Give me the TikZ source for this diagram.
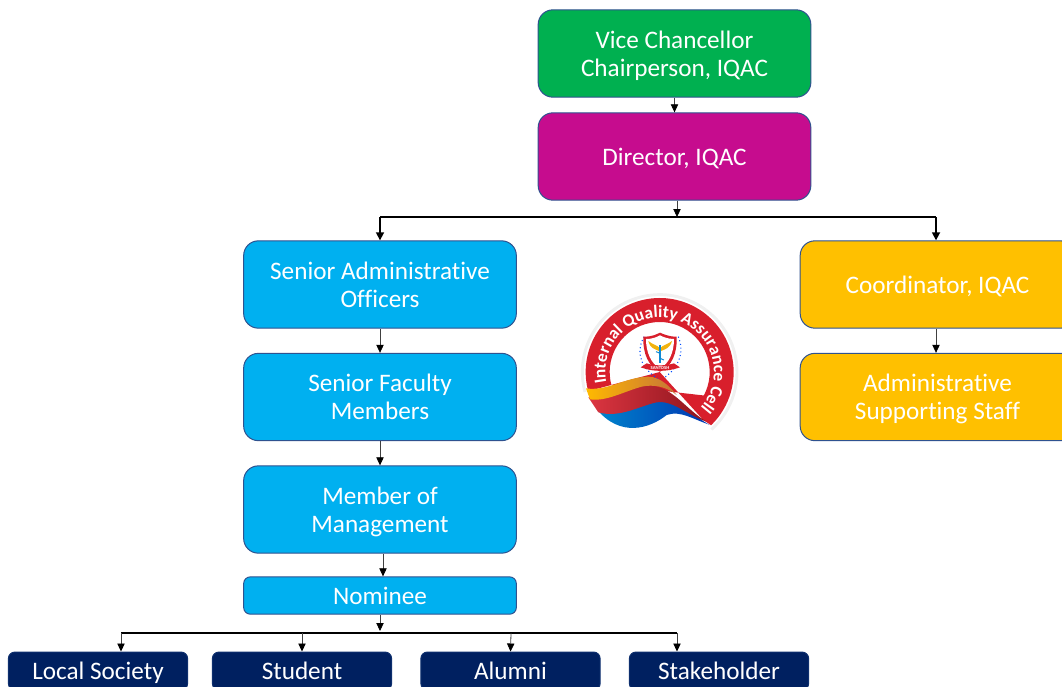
\documentclass[tikz,border=0pt]{standalone}
\usepackage{fontspec}
\setmainfont{Carlito}[Ligatures=NoCommon]
\newfontfamily\logofont{Carlito}[Ligatures=NoCommon]
\usetikzlibrary{arrows.meta,decorations.text,calc}
\definecolor{cgreen}{HTML}{00B050}
\definecolor{cmag}{HTML}{C60C8E}
\definecolor{cblue}{HTML}{00B0F0}
\definecolor{cgold}{HTML}{FFC000}
\definecolor{cnavy}{HTML}{002060}
\definecolor{cedge}{HTML}{2F528F}
\definecolor{logored}{HTML}{D81F2C}
\newcommand{\lsx}{\rule[-3.8pt]{0pt}{20.8pt}}
\tikzset{
 orgbox/.style={draw=cedge,line width=0.75pt,rounded corners=11pt,align=center,text=white,
   font=\fontsize{18.9}{21}\selectfont,inner sep=0pt,minimum width=204.5pt,minimum height=65.5pt},
 nombox/.style={orgbox,rounded corners=5pt,minimum height=28pt},
 leafbox/.style={orgbox,rounded corners=5pt,draw=cnavy!70!cedge,fill=cnavy,minimum width=134.5pt,minimum height=28.5pt},
 lnk/.style={draw=black!75,line width=0.6pt,-{Triangle[length=6pt,width=5.5pt,black]}},
 thicklnk/.style={draw=black,line width=1.2pt,-{Triangle[length=6pt,width=6pt,black]}},
 busline/.style={draw=black,line width=1.5pt},
}
\begin{document}
\begin{tikzpicture}[x=0.75pt,y=-0.75pt]
\useasboundingbox (0,0) rectangle (1062,686);
\clip (0,0) rectangle (1062,686);
\node[orgbox,fill=cgreen] (vc) at (674.5,53.5) {\lsx Vice Chancellor\\\lsx Chairperson, IQAC};
\node[orgbox,fill=cmag] (dir) at (674.5,156.5) {\lsx Director, IQAC};
\node[orgbox,fill=cblue] (sao) at (380,284.5) {\lsx Senior Administrative\\\lsx Officers};
\node[orgbox,fill=cblue] (sfm) at (380,397) {\lsx Senior Faculty\\\lsx Members};
\node[orgbox,fill=cblue] (mom) at (380,509.5) {\lsx Member of\\\lsx Management};
\node[nombox,fill=cblue] (nom) at (380,595.5) {\lsx Nominee};
\node[orgbox,fill=cgold,minimum width=206pt] (coo) at (937.5,284.5) {\lsx Coordinator, IQAC};
\node[orgbox,fill=cgold,minimum width=206pt] (adm) at (937.5,397) {\lsx Administrative\\\lsx Supporting Staff};
\node[leafbox] (loc) at (98,671) {\lsx Local Society};
\node[leafbox] (stu) at (302,671) {\lsx Student};
\node[leafbox] (alu) at (510.5,671) {\lsx Alumni};
\node[leafbox] (sta) at (719,671) {\lsx Stakeholder};
% buses
\coordinate (tbusl) at (380,217);
\coordinate (tbusr) at (936,217);
\coordinate (tbusm) at (677,217);
\coordinate (bbusl) at (121,633);
\coordinate (bbusr) at (677,633);
\coordinate (bbusm) at (380,631);
\coordinate (bs) at (302,633);
\coordinate (ba) at (511,633);
\draw[busline] (tbusl) -- (tbusr);
\draw[busline] (bbusl) -- (bbusr);
\draw[lnk] (vc.south) -- (dir.north);
\draw[lnk] (dir.south -| tbusm) -- (tbusm);
\draw[thicklnk] (tbusl) -- (sao.north);
\draw[thicklnk] (tbusr) -- (coo.north -| tbusr);
\draw[lnk] (sao.south) -- (sfm.north);
\draw[lnk] (sfm.south) -- (mom.north);
\draw[lnk] (coo.south -| tbusr) -- (adm.north -| tbusr);
\draw[lnk] ($(mom.south)+(3,0)$) -- ($(nom.north)+(3,0)$);
\draw[lnk] (nom.south) -- (bbusm);
\draw[lnk] (bbusl) -- (bbusl |- loc.north);
\draw[lnk] (bs) -- (stu.north);
\draw[lnk] (ba) -- (alu.north);
\draw[lnk] (bbusr) -- (bbusr |- sta.north);
% logo, drawn in the coordinates of a 3x crop
\begin{scope}[shift={(570,280)},x=0.25pt,y=-0.25pt]
 \draw[black!6,line width=2.2pt] (269,276) ++(165:232) arc[start angle=165,end angle=408,radius=232];
 \fill[logored] (269,276) ++(165:222) arc[start angle=165,end angle=406,radius=222]
    -- (400,420) -- (269,276) ++(28:150) arc[start angle=388,end angle=165,radius=150] -- cycle;
 % ribbon
 \shade[left color=blue!35!cyan!80!black,right color=blue!70!cyan!70!black] (78,385) .. controls (120,400) and (190,365) .. (260,345) .. controls (320,345) and (370,410) .. (418,434)
   .. controls (370,418) and (330,390) .. (290,405) .. controls (240,445) and (150,475) .. (78,385) -- cycle;
 \shade[left color=logored!90!white,right color=logored!65!black] (55,352) .. controls (120,350) and (180,310) .. (250,318) .. controls (310,325) and (350,390) .. (410,425)
   .. controls (350,405) and (310,360) .. (260,367) .. controls (210,377) and (150,415) .. (85,397) -- cycle;
 \shade[left color=cgold!90!orange,right color=brown!90!red] (48,325) .. controls (110,335) and (170,290) .. (235,290) .. controls (270,290) and (300,320) .. (320,345)
   .. controls (290,320) and (250,312) .. (215,320) .. controls (160,335) and (110,365) .. (60,358) -- cycle;
 % shield
 \draw[blue!70!cyan,line width=0.8pt,dotted] (222,170) .. controls (195,220) and (215,265) .. (262,295);
 \draw[blue!70!cyan,line width=0.8pt,dotted] (325,170) .. controls (345,220) and (325,265) .. (280,295);
 \fill[logored] (220,170) .. controls (250,170) and (260,162) .. (270,158) .. controls (280,162) and (295,170) .. (320,170)
   .. controls (322,220) and (305,260) .. (270,275) .. controls (235,260) and (218,220) .. (220,170) -- cycle;
 \fill[white] (228,177) .. controls (250,177) and (262,170) .. (270,166) .. controls (278,170) and (292,177) .. (312,177)
   .. controls (312,215) and (298,250) .. (270,266) .. controls (242,250) and (228,215) .. (228,177) -- cycle;
 \fill[cgold!80!brown] (235,183) .. controls (250,195) and (262,195) .. (270,205) .. controls (278,195) and (290,195) .. (306,183)
   .. controls (300,205) and (285,208) .. (270,214) .. controls (255,208) and (240,205) .. (235,183) -- cycle;
 \draw[cyan!70!blue,line width=1pt] (270,195) -- (270,250);
 \draw[cyan!70!blue,line width=0.7pt] (258,215) .. controls (285,222) and (255,232) .. (282,240);
 \fill[logored] (212,262) -- (230,250) .. controls (255,258) and (285,258) .. (312,250) -- (330,262) .. controls (290,276) and (250,276) .. (212,262) -- cycle;
 \node[text=white,font=\logofont\fontsize{3.5}{4}\selectfont\bfseries,inner sep=0pt] (snt) at (270,263) {SANTOSH};
 \path[postaction={decorate,decoration={text along path,text align=center,
   text={|\logofont\bfseries\fontsize{13}{14}\selectfont\color{white}|Internal Quality Assurance Cell}}}]
   (269,276) ++(130:163) arc[start angle=130,end angle=440,radius=163];
\end{scope}
\end{tikzpicture}
\end{document}
